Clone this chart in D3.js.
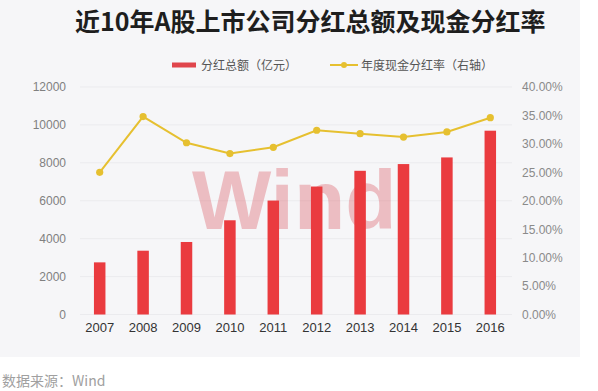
<!DOCTYPE html>
<html><head><meta charset="utf-8">
<script src="https://cdn.jsdelivr.net/npm/d3@7"></script>
<style>
html,body{margin:0;padding:0;background:#fff;}
svg{display:block;}
</style></head>
<body>
<svg id="chart" width="598" height="391"></svg>
<script>
const years = ["2007","2008","2009","2010","2011","2012","2013","2014","2015","2016"];
const dividendTotal = [2750, 3365, 3825, 4970, 6010, 6750, 7580, 7935, 8285, 9695];
const payoutRatio = [25.0, 34.8, 30.2, 28.3, 29.4, 32.4, 31.8, 31.2, 32.1, 34.6];
const leftTicks = [0, 2000, 4000, 6000, 8000, 10000, 12000];
const rightTicks = [0, 5, 10, 15, 20, 25, 30, 35, 40];
const titleText = "近10年A股上市公司分红总额及现金分红率";
const legendLabels = ["分红总额（亿元）", "年度现金分红率（右轴）"];
const sourceText = "数据来源：Wind";

const svg = d3.select("#chart");
const cjk = "'Noto Sans CJK SC','Noto Sans',sans-serif";
const latin = "'Liberation Sans',Arial,sans-serif";

svg.append("rect").attr("x",0).attr("y",0).attr("width",580).attr("height",357).attr("fill","#f6f6f8");

const x = d3.scaleBand().domain(years).range([78,512]).paddingInner(0.735).paddingOuter(0.3675);
const yL = d3.scaleLinear().domain([0,12000]).range([314.5,87]);
const yR = d3.scaleLinear().domain([0,40]).range([314.5,87]);

// grid
svg.append("g").selectAll("line").data(leftTicks).join("line")
  .attr("x1",80).attr("x2",512).attr("y1",d=>yL(d)).attr("y2",d=>yL(d))
  .attr("stroke","#ebebee").attr("stroke-width",1);

// watermark
svg.append("text").attr("x",192).attr("y",229).text("Wind")
  .attr("font-family",latin).attr("font-weight","bold").attr("font-size",84)
  .attr("fill","#dc5a64").attr("opacity",0.36);

// left axis
const gL = svg.append("g").attr("transform","translate(66,0)")
  .call(d3.axisLeft(yL).tickValues(leftTicks).tickSize(0).tickPadding(0).tickFormat(d3.format("d")));
gL.select(".domain").remove();
gL.selectAll("text").attr("font-family",latin).attr("font-size",12).attr("fill","#808080");

// right axis
const gR = svg.append("g").attr("transform","translate(522,0)")
  .call(d3.axisRight(yR).tickValues(rightTicks).tickSize(0).tickPadding(0).tickFormat(d=>d.toFixed(2)+"%"));
gR.select(".domain").remove();
gR.selectAll("text").attr("font-family",latin).attr("font-size",12).attr("fill","#8a8a8a");

// bars
svg.append("g").selectAll("rect").data(years).join("rect")
  .attr("x",d=>x(d)).attr("width",x.bandwidth())
  .attr("y",(d,i)=>yL(dividendTotal[i])).attr("height",(d,i)=>yL(0)-yL(dividendTotal[i]))
  .attr("fill","#ea3b3f");

// bottom axis
const gB = svg.append("g").attr("transform","translate(0,323)")
  .call(d3.axisBottom(x).tickSize(0).tickPadding(0));
gB.select(".domain").remove();
gB.selectAll("text").attr("font-family",latin).attr("font-size",13).attr("fill","#333").attr("dy","0.71em");

// line
const cx = d => x(d) + x.bandwidth()/2;
const line = d3.line().x((d,i)=>cx(years[i])).y(d=>yR(d));
svg.append("path").datum(payoutRatio).attr("d",line)
  .attr("fill","none").attr("stroke","#e6c030").attr("stroke-width",2);
svg.append("g").selectAll("circle").data(payoutRatio).join("circle")
  .attr("cx",(d,i)=>cx(years[i])).attr("cy",d=>yR(d)).attr("r",3.6).attr("fill","#e6c030");

// title
svg.append("text").attr("x",75).attr("y",31).text(titleText)
  .attr("font-family",cjk).attr("font-weight","bold").attr("font-size",25).attr("fill","#1e1e1e");

// legend
svg.append("rect").attr("x",172).attr("y",62.5).attr("width",24).attr("height",5).attr("fill","#e0454c");
svg.append("text").attr("x",201).attr("y",69.5).text(legendLabels[0])
  .attr("font-family",cjk).attr("font-size",12).attr("fill","#555");
svg.append("line").attr("x1",330).attr("x2",358).attr("y1",65).attr("y2",65)
  .attr("stroke","#e6c030").attr("stroke-width",2);
svg.append("circle").attr("cx",344).attr("cy",65).attr("r",3).attr("fill","#e6c030");
svg.append("text").attr("x",361).attr("y",69.5).text(legendLabels[1])
  .attr("font-family",cjk).attr("font-size",12).attr("fill","#555");

// source
svg.append("text").attr("x",2).attr("y",386).text(sourceText)
  .attr("font-family",cjk).attr("font-size",14).attr("fill","#a0a0a0");
</script>
</body></html>
